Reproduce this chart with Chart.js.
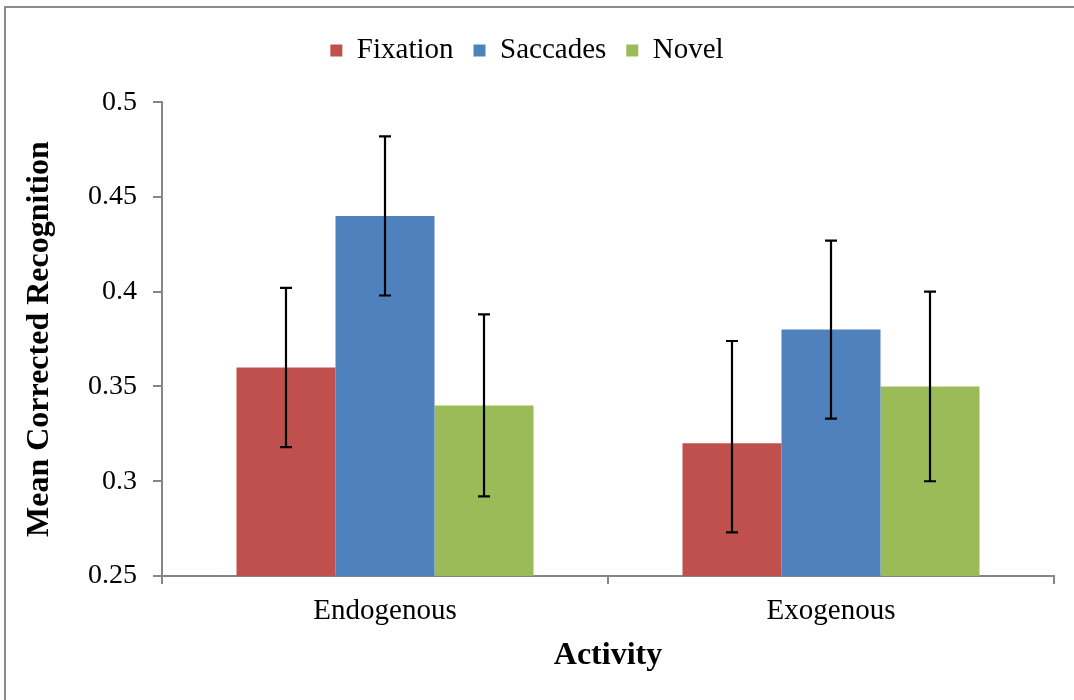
<!DOCTYPE html>
<html>
<head>
<meta charset="utf-8">
<script src="https://cdn.jsdelivr.net/npm/chart.js@4/dist/chart.umd.min.js"></script>
<style>
    html, body { margin: 0; padding: 0; background: #fff; overflow: hidden; }
    #frame {
        position: absolute; left: 4px; top: 6px; width: 1090px; height: 720px;
        border: 2px solid #8c8c8c; box-sizing: border-box;
    }
    #wrap { position: absolute; left: 0; top: 0; width: 1074px; height: 700px; }
</style>
</head>
<body>
<div id="frame"></div>
<div id="wrap"><canvas id="chart" width="1074" height="700"></canvas></div>
<script>
    /* ── DATA ─────────────────────────────────────────────── */
    const categories = ['Endogenous', 'Exogenous'];
    const seriesNames = ['Fixation', 'Saccades', 'Novel'];

    const fixation = [0.36, 0.32];
    const saccades = [0.44, 0.38];
    const novel    = [0.34, 0.35];

    // error bar ends (upper / lower)
    const fixationHi = [0.402, 0.374];
    const fixationLo = [0.318, 0.273];
    const saccadesHi = [0.482, 0.427];
    const saccadesLo = [0.398, 0.333];
    const novelHi    = [0.388, 0.400];
    const novelLo    = [0.292, 0.300];

    const yTicks = [0.25, 0.3, 0.35, 0.4, 0.45, 0.5];

    /* ── THEME ────────────────────────────────────────────── */
    const C = {
        red:   '#C0504D',
        blue:  '#4F81BD',
        green: '#9BBB59',
        axis:  '#868686',
        text:  '#000',
        font:  "'Liberation Serif', 'Times New Roman', serif",
    };

    Chart.defaults.font.family = C.font;
    Chart.defaults.color = C.text;

    /* ── ERROR BARS PLUGIN ───────────────────────────────── */
    const errorBars = {
        id: 'errorBars',
        afterDatasetsDraw(chart) {
            const ctx = chart.ctx;
            const y = chart.scales.y;
            ctx.save();
            ctx.strokeStyle = '#000';
            ctx.lineWidth = 2.2;
            chart.data.datasets.forEach((ds, i) => {
                const meta = chart.getDatasetMeta(i);
                meta.data.forEach((bar, j) => {
                    const top = y.getPixelForValue(ds.errHi[j]);
                    const bot = y.getPixelForValue(ds.errLo[j]);
                    const x = bar.x;
                    ctx.beginPath();
                    ctx.moveTo(x, top); ctx.lineTo(x, bot);
                    ctx.moveTo(x - 6, top); ctx.lineTo(x + 6, top);
                    ctx.moveTo(x - 6, bot); ctx.lineTo(x + 6, bot);
                    ctx.stroke();
                });
            });
            ctx.restore();
        }
    };

    new Chart(document.getElementById('chart'), {
        type: 'bar',
        data: {
            labels: categories,
            datasets: [
                { label: seriesNames[0], data: fixation, backgroundColor: C.red,   errHi: fixationHi, errLo: fixationLo },
                { label: seriesNames[1], data: saccades, backgroundColor: C.blue,  errHi: saccadesHi, errLo: saccadesLo },
                { label: seriesNames[2], data: novel,    backgroundColor: C.green, errHi: novelHi,    errLo: novelLo },
            ]
        },
        options: {
            responsive: false,
            animation: false,
            layout: { padding: { top: 16, right: 20, left: 0, bottom: 0 } },
            datasets: { bar: { categoryPercentage: 0.666, barPercentage: 1.0, borderWidth: 0 } },
            plugins: {
                legend: {
                    position: 'top',
                    weight: 1000,
                    labels: {
                        boxWidth: 12, boxHeight: 12,
                        padding: 20,
                        font: { size: 29 },
                        color: C.text,
                    }
                },
                // empty title placed under the legend as a spacer
                title: {
                    display: true, text: '', weight: 500,
                    font: { size: 1 }, padding: { top: 0, bottom: 26 }
                },
                tooltip: { enabled: false }
            },
            scales: {
                x: {
                    offset: true,
                    grid: { offset: true, drawOnChartArea: false, tickLength: 8, color: C.axis, lineWidth: 2 },
                    border: { color: C.axis, width: 2 },
                    ticks: { font: { size: 29 }, color: C.text, padding: 10 },
                    title: { display: true, text: 'Activity', font: { size: 32, weight: 'bold' }, color: C.text, padding: { top: 0, bottom: 25 } },
                    afterFit: s => { s.height = 124; }
                },
                y: {
                    min: 0.25, max: 0.5,
                    afterBuildTicks: s => { s.ticks = yTicks.map(v => ({ value: v })); },
                    grid: { drawOnChartArea: false, tickLength: 9, color: C.axis, lineWidth: 2 },
                    border: { color: C.axis, width: 2 },
                    ticks: { font: { size: 28 }, color: C.text, padding: 16, callback: v => String(+v.toFixed(2)) },
                    title: { display: true, text: 'Mean Corrected Recognition', font: { size: 32, weight: 'bold' }, color: C.text, padding: { top: 21, bottom: 0 } },
                    afterFit: s => { s.width = 162; }
                }
            }
        },
        plugins: [errorBars]
    });
</script>
</body>
</html>
